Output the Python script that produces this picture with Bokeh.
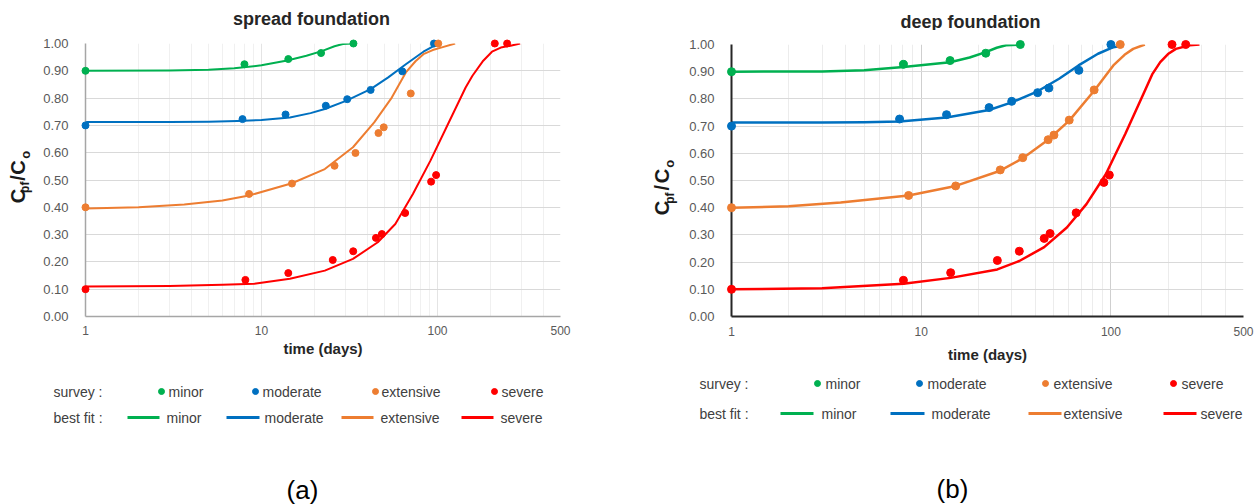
from bokeh.plotting import figure
from bokeh.layouts import row, column
from bokeh.models import Range1d, FixedTicker, NumeralTickFormatter
from bokeh.core.properties import value
from bokeh.embed import file_html
from bokeh.resources import INLINE
import math

FONT = "Liberation Sans"

# ---------------- data ----------------
x_ticks = [1, 10, 100, 500]
x_minor = [2, 3, 4, 5, 6, 7, 8, 9, 20, 30, 40, 50, 60, 70, 80, 90, 200, 300, 400]
y_ticks = [0.0, 0.1, 0.2, 0.3, 0.4, 0.5, 0.6, 0.7, 0.8, 0.9, 1.0]

categories = ["minor", "moderate", "extensive", "severe"]
colors = ["#00b050", "#0070c0", "#ed7d31", "#ff0000"]

# spread foundation survey points
sp_minor_t = [1, 8.0, 14.2, 21.8, 33.3]
sp_minor_c = [0.90, 0.924, 0.943, 0.965, 1.00]
sp_mod_t = [1, 7.8, 13.7, 23.2, 30.7, 41.7, 63.1, 95.5]
sp_mod_c = [0.70, 0.723, 0.740, 0.772, 0.796, 0.830, 0.898, 1.00]
sp_ext_t = [1, 8.5, 14.9, 26.0, 34.2, 46.2, 49.5, 70.5, 101]
sp_ext_c = [0.40, 0.449, 0.487, 0.552, 0.599, 0.672, 0.693, 0.817, 1.00]
sp_sev_t = [1, 8.1, 14.2, 25.4, 33.2, 44.7, 48.3, 65.5, 92, 98.2, 211.7, 248.7]
sp_sev_c = [0.10, 0.134, 0.159, 0.207, 0.239, 0.288, 0.302, 0.379, 0.494, 0.518, 1.00, 1.00]

# spread foundation best-fit curves
spf_minor_t = [1, 3, 5, 7, 10, 14, 18, 22, 26, 29, 33]
spf_minor_c = [0.900, 0.901, 0.904, 0.909, 0.920, 0.938, 0.955, 0.972, 0.990, 0.998, 1.0]
spf_mod_t = [1, 3, 5, 7.3, 10, 14.5, 19, 22.9, 30.2, 41.7, 52.5, 66.1, 83.2, 95, 105]
spf_mod_c = [0.712, 0.712, 0.713, 0.716, 0.720, 0.729, 0.745, 0.760, 0.790, 0.833, 0.876, 0.924, 0.970, 0.990, 1.0]
spf_ext_t = [1, 2, 3.64, 6, 8.5, 14.9, 22.9, 33.1, 43.7, 55, 66.1, 75, 83.2, 94, 104.7, 126]
spf_ext_c = [0.396, 0.400, 0.410, 0.425, 0.443, 0.488, 0.540, 0.620, 0.711, 0.802, 0.894, 0.935, 0.961, 0.976, 0.985, 1.0]
spf_sev_t = [1, 3, 6, 9.1, 14.5, 22.9, 33.1, 45.8, 57.6, 72.5, 91.2, 114.8, 144.5, 158, 182, 204, 229, 260, 295]
spf_sev_c = [0.110, 0.112, 0.116, 0.120, 0.138, 0.168, 0.211, 0.272, 0.339, 0.449, 0.571, 0.705, 0.839, 0.882, 0.937, 0.970, 0.985, 0.992, 1.0]

# deep foundation survey points
dp_minor_t = [1, 8.06, 14.2, 21.9, 33.3]
dp_minor_c = [0.90, 0.927, 0.941, 0.968, 1.00]
dp_mod_t = [1, 7.69, 13.6, 22.8, 30.0, 41.1, 47.1, 67.8, 100]
dp_mod_c = [0.70, 0.726, 0.742, 0.768, 0.791, 0.823, 0.840, 0.905, 1.00]
dp_ext_t = [1, 8.58, 15.2, 26.1, 34.3, 46.7, 50.1, 60.3, 81.6, 112]
dp_ext_c = [0.40, 0.445, 0.480, 0.539, 0.584, 0.650, 0.667, 0.722, 0.833, 1.00]
dp_sev_t = [1, 8.06, 14.3, 25.2, 32.9, 44.5, 47.8, 65.6, 91.8, 98.1, 210, 248]
dp_sev_c = [0.10, 0.133, 0.161, 0.206, 0.240, 0.287, 0.305, 0.381, 0.493, 0.520, 1.00, 1.00]

# deep foundation best-fit curves
dpf_minor_t = [1, 3, 5, 8.06, 14.2, 18, 21.9, 25, 28, 33.3]
dpf_minor_c = [0.900, 0.901, 0.905, 0.917, 0.935, 0.952, 0.972, 0.988, 0.997, 1.0]
dpf_mod_t = [1, 3, 5, 7.69, 13.6, 22.8, 30.0, 41.1, 53.3, 67.5, 85.5, 103, 116]
dpf_mod_c = [0.713, 0.713, 0.714, 0.717, 0.732, 0.759, 0.787, 0.828, 0.874, 0.923, 0.966, 0.990, 0.996]
dpf_ext_t = [1, 2, 3.76, 8.58, 15.2, 26.1, 34.3, 46.7, 60.3, 81.6, 103, 118, 131, 151]
dpf_ext_c = [0.400, 0.405, 0.419, 0.445, 0.480, 0.536, 0.582, 0.650, 0.720, 0.830, 0.923, 0.962, 0.984, 1.0]
dpf_sev_t = [1, 3, 8.06, 14.3, 25.2, 32.9, 44.5, 58.6, 74.3, 94, 119, 151, 165, 182, 200, 220, 260, 293]
dpf_sev_c = [0.100, 0.104, 0.120, 0.142, 0.173, 0.204, 0.255, 0.327, 0.413, 0.523, 0.671, 0.830, 0.890, 0.935, 0.965, 0.984, 0.997, 1.0]

spread_pts = [(sp_minor_t, sp_minor_c), (sp_mod_t, sp_mod_c), (sp_ext_t, sp_ext_c), (sp_sev_t, sp_sev_c)]
spread_fit = [(spf_minor_t, spf_minor_c), (spf_mod_t, spf_mod_c), (spf_ext_t, spf_ext_c), (spf_sev_t, spf_sev_c)]
deep_pts = [(dp_minor_t, dp_minor_c), (dp_mod_t, dp_mod_c), (dp_ext_t, dp_ext_c), (dp_sev_t, dp_sev_c)]
deep_fit = [(dpf_minor_t, dpf_minor_c), (dpf_mod_t, dpf_mod_c), (dpf_ext_t, dpf_ext_c), (dpf_sev_t, dpf_sev_c)]

PAGE_H = 504
HALF_W = 628
TOP_H = 30
MID_H = 340
BOT_H = PAGE_H - TOP_H - MID_H
ROT_SHIFT = 20  # rotated texts render higher than their anchor; compensate


def canvas(w, h):
    p = figure(width=w, height=h, x_range=Range1d(0, w), y_range=Range1d(0, h),
               toolbar_location=None, output_backend="svg",
               x_axis_location=None, y_axis_location=None, min_border=0)
    p.grid.visible = False
    p.outline_line_color = None
    p.background_fill_color = "white"
    p.border_fill_color = "white"
    return p


def put_text(p, x0, y0, h, X, Y, txt, size, bold=False, align="left", color="#404040",
             angle=0.0, baseline="middle"):
    p.text(x=[X - x0], y=[h - (Y - y0)], text=[txt], text_font=value(FONT),
           text_font_size=value(size), text_font_style="bold" if bold else "normal",
           text_align=align, text_baseline=baseline, text_color=color, angle=angle)


def ylabel_canvas(w, page_x0, main_x, sub_x, centers):
    """C_pf / C_o written bottom-to-top; every piece is centred on its own spot."""
    p = canvas(w, MID_H)
    y0 = TOP_H
    texts = ["C", "pf", "/", "C", "o"]
    sizes = [20, 12, 20, 20, 13]
    xs = [main_x, sub_x, main_x, main_x, sub_x]
    for txt, s, cx, cy in zip(texts, sizes, xs, centers):
        put_text(p, page_x0, y0, MID_H, cx, cy + ROT_SHIFT, txt, f"{s}px", bold=True,
                 color="#1a1a1a", angle=math.pi / 2, align="center", baseline="middle")
    return p


def chart(w, mbl, mbr, mbt, mbb, pts, fits, axis_color, axis_w, xg_major, xg_minor, yg,
          lw, msize, lab_stand, axlab_stand):
    p = figure(width=w, height=MID_H, x_axis_type="log", x_range=Range1d(1, 500),
               y_range=Range1d(0, 1), toolbar_location=None, output_backend="svg",
               min_border_left=mbl, min_border_right=mbr, min_border_top=mbt,
               min_border_bottom=mbb)
    p.outline_line_color = None
    p.background_fill_color = "white"
    p.border_fill_color = "white"
    p.xaxis.ticker = FixedTicker(ticks=x_ticks, minor_ticks=x_minor)
    p.xaxis.formatter = NumeralTickFormatter(format="0")
    p.yaxis.ticker = FixedTicker(ticks=y_ticks)
    p.yaxis.formatter = NumeralTickFormatter(format="0.00")
    for ax in (p.xaxis[0], p.yaxis[0]):
        ax.major_tick_line_color = None
        ax.minor_tick_line_color = None
        ax.axis_line_color = axis_color
        ax.axis_line_width = axis_w
        ax.major_label_text_font = FONT
        ax.major_label_text_color = "#595959"
    p.xaxis.major_label_text_font_size = "12px"
    p.yaxis.major_label_text_font_size = "13px"
    p.xaxis.major_label_standoff = lab_stand
    p.yaxis.major_label_standoff = 11
    p.xaxis.axis_label = "time (days)"
    p.xaxis.axis_label_text_font = FONT
    p.xaxis.axis_label_text_font_style = "bold"
    p.xaxis.axis_label_text_font_size = "15px"
    p.xaxis.axis_label_text_color = "#262626"
    p.xaxis.axis_label_standoff = axlab_stand
    p.xgrid.grid_line_color = xg_major
    p.xgrid.minor_grid_line_color = xg_minor
    p.ygrid.grid_line_color = yg
    p.ygrid.grid_line_width = 1
    for (ft, fc), col in zip(fits, colors):
        p.line(ft, fc, line_color=col, line_width=lw, line_join="round")
    for (t, c), col in zip(pts, colors):
        p.scatter(t, c, marker="circle", size=msize, fill_color=col, line_color=col,
                  level="overlay")
    return p


def legend_canvas(page_x0, rows_y, lab_x, dots, dot_texts, lines, line_texts, panel_lab, panel_xy,
                  fsize):
    p = canvas(HALF_W, BOT_H)
    y0 = TOP_H + MID_H
    sy, by = rows_y
    put_text(p, page_x0, y0, BOT_H, lab_x, sy, "survey :", fsize)
    put_text(p, page_x0, y0, BOT_H, lab_x, by, "best fit :", fsize)
    for dx, tx, col, name in zip(dots, dot_texts, colors, categories):
        p.scatter([dx - page_x0], [BOT_H - (sy - y0)], marker="circle", size=6,
                  fill_color=col, line_color=col)
        put_text(p, page_x0, y0, BOT_H, tx, sy, name, fsize)
    for (x1, x2), tx, col, name in zip(lines, line_texts, colors, categories):
        yy = BOT_H - (by - y0)
        p.segment(x0=[x1 - page_x0], y0=[yy], x1=[x2 - page_x0], y1=[yy], line_color=col,
                  line_width=3)
        put_text(p, page_x0, y0, BOT_H, tx, by, name, fsize)
    put_text(p, page_x0, y0, BOT_H, panel_xy[0], panel_xy[1], panel_lab, "26px",
             align="center", color="#000000")
    return p


# ---------- left half (spread foundation) ----------
L_YW = 40
tL = canvas(HALF_W, TOP_H)
put_text(tL, 0, 0, TOP_H, 311, 18, "spread foundation", "18px", bold=True, align="center",
         color="#262626")
yL = ylabel_canvas(L_YW, 0, 17, 24.5, [200, 189, 177.5, 164.5, 148.5])
cL = chart(HALF_W - L_YW, 78 - L_YW, HALF_W - 560, 43 - TOP_H, TOP_H + MID_H - 316,
           spread_pts, spread_fit, "#a6a6a6", 1.5, "#e4e4e4", "#f0f0f0", "#d9d9d9",
           2, 7, 3, 2)
lL = legend_canvas(0, (391, 417), 53, [161, 255, 375, 494], [168, 262, 381, 501],
                   [(127, 159), (226, 259), (341, 373), (461, 493)], [166, 264, 380, 500],
                   "(a)", (302, 489), "14px")
left = column(tL, row(yL, cL), lL)

# ---------- right half (deep foundation) ----------
R_YW = 58
X0 = HALF_W
tR = canvas(HALF_W, TOP_H)
put_text(tR, X0, 0, TOP_H, 970, 21, "deep foundation", "18px", bold=True, align="center",
         color="#262626")
yR = ylabel_canvas(R_YW, X0, 661.5, 669, [214.5, 202, 189, 174.5, 159])
cR = chart(HALF_W - R_YW, 727 - X0 - R_YW, HALF_W - (1243 - X0), 44 - TOP_H,
           TOP_H + MID_H - 316, deep_pts, deep_fit, "#262626", 2, "#cfcfcf", "#ececec",
           "#d9d9d9", 2.5, 8, 4, 7)
lR = legend_canvas(X0, (383, 413), 699, [817, 919, 1045, 1173], [825, 927, 1053, 1181],
                   [(780, 813), (890, 924), (1028, 1061), (1163, 1196)], [821, 931, 1063, 1200],
                   "(b)", (952, 488), "14px")
right = column(tR, row(yR, cR), lR)

page = row(left, right)
open("out.html", "w").write(file_html(page, INLINE))
